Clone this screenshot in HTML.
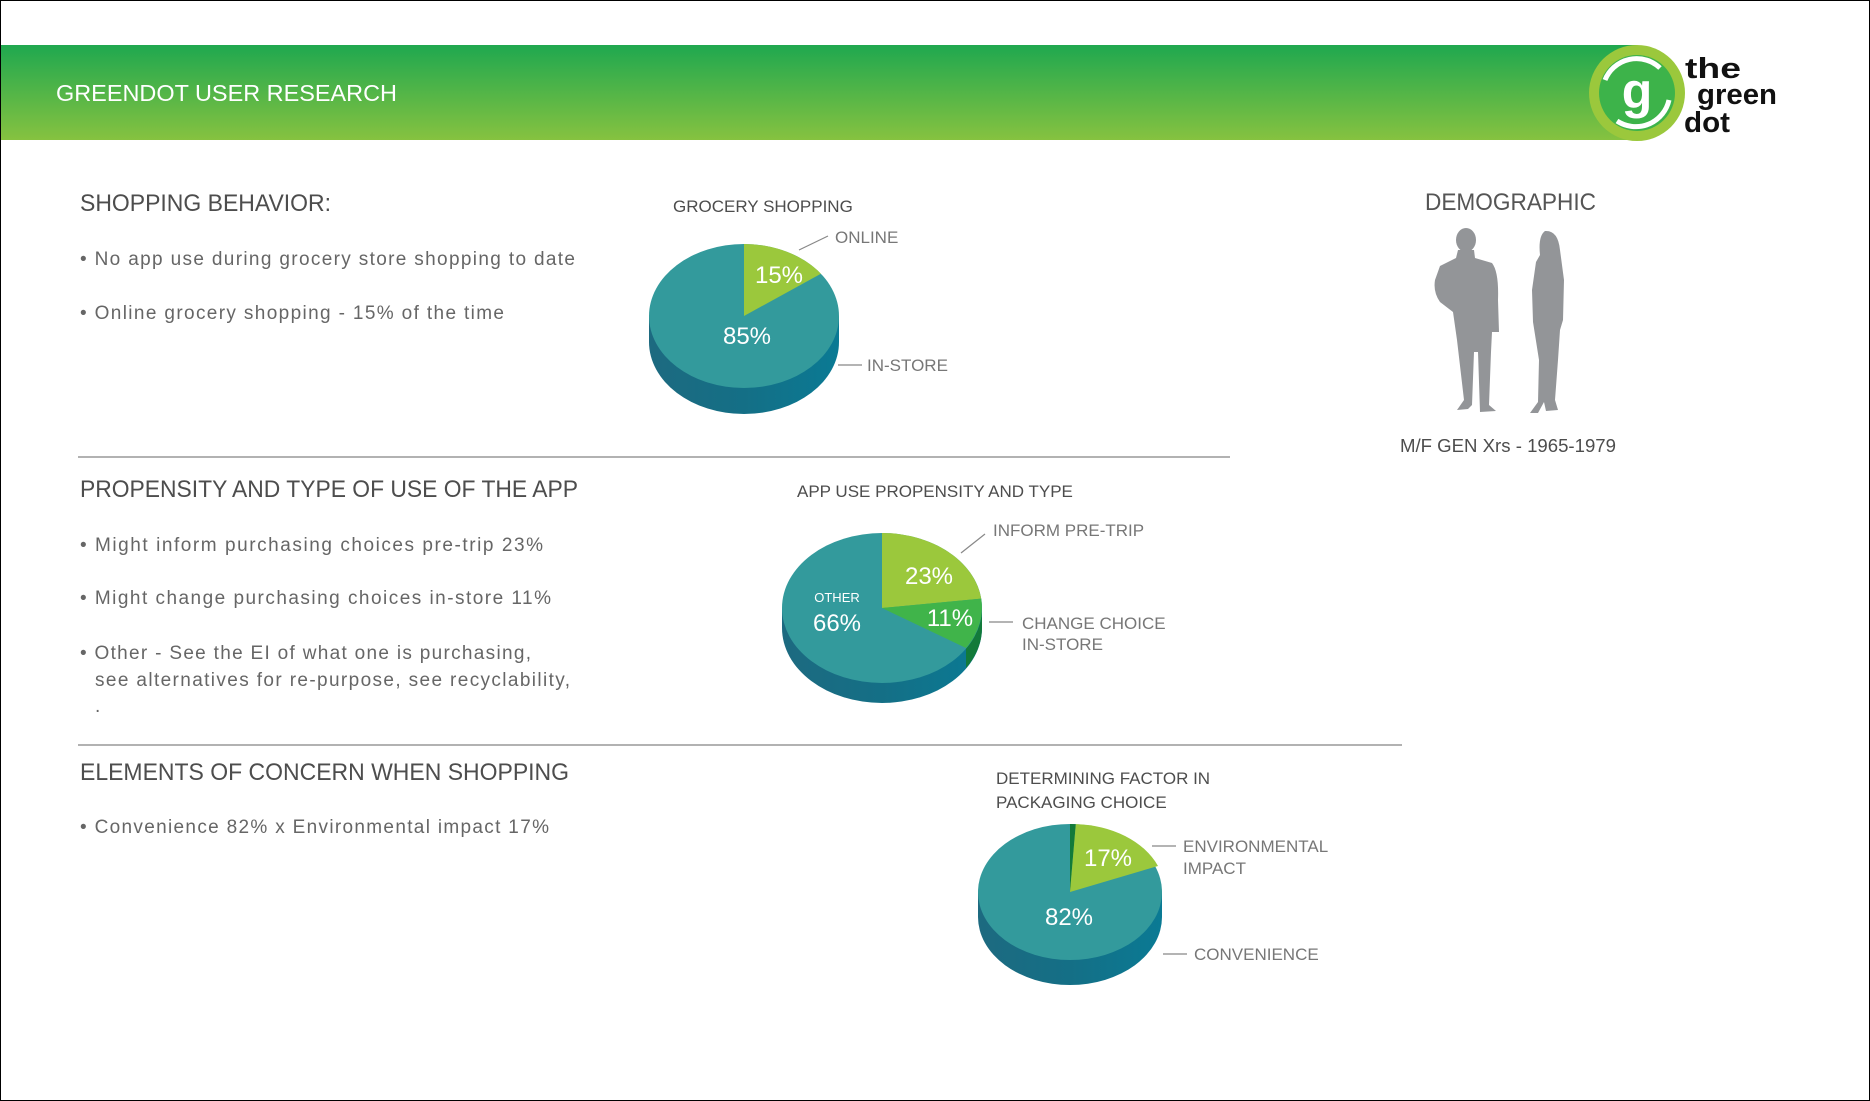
<!DOCTYPE html>
<html><head><meta charset="utf-8"><style>
html,body{margin:0;padding:0;background:#fff}
svg{display:block}
text{font-family:"Liberation Sans",sans-serif}
</style></head><body>
<svg width="1870" height="1101" viewBox="0 0 1870 1101" xmlns="http://www.w3.org/2000/svg">
<defs>
<linearGradient id="hdr" x1="0" y1="0" x2="0" y2="1"><stop offset="0" stop-color="#1fa84f"/><stop offset="1" stop-color="#86c240"/></linearGradient>
<linearGradient id="side" x1="0" y1="0" x2="1" y2="0"><stop offset="0" stop-color="#1d6a80"/><stop offset="0.5" stop-color="#146f86"/><stop offset="1" stop-color="#0a7a94"/></linearGradient>
</defs>
<rect x="0.5" y="0.5" width="1869" height="1100" fill="#fff" stroke="#000"/>
<rect x="1" y="45" width="1636" height="95" fill="url(#hdr)"/>
<text x="56" y="101" font-size="23" fill="#fff" textLength="341" lengthAdjust="spacingAndGlyphs">GREENDOT USER RESEARCH</text>
<!-- logo -->
<circle cx="1637" cy="93" r="48" fill="#9bc83c"/>
<circle cx="1637" cy="93" r="38" fill="#3db34a"/>
<path d="M1605 80 A34 34 0 0 1 1660 68" stroke="#fff" stroke-width="5" fill="none"/>
<path d="M1669 100 A34 34 0 0 1 1617 121" stroke="#fff" stroke-width="5" fill="none"/>
<text x="1637" y="108" font-size="50" fill="#fff" text-anchor="middle" font-weight="bold">g</text>
<g font-size="29" fill="#111" font-weight="bold">
<text x="1685" y="78" textLength="56" lengthAdjust="spacingAndGlyphs">the</text>
<text x="1697" y="104" textLength="80" lengthAdjust="spacingAndGlyphs">green</text>
<text x="1684" y="132" textLength="46" lengthAdjust="spacingAndGlyphs">dot</text>
</g>

<g fill="#4d4d4d">
<text x="80" y="211" font-size="24" textLength="251" lengthAdjust="spacingAndGlyphs">SHOPPING BEHAVIOR:</text>
<text x="80" y="265" font-size="19" fill="#666" textLength="495" lengthAdjust="spacing">• No app use during grocery store shopping to date</text>
<text x="80" y="319" font-size="19" fill="#666" textLength="424" lengthAdjust="spacing">• Online grocery shopping - 15% of the time</text>
<text x="80" y="497" font-size="24" textLength="498" lengthAdjust="spacingAndGlyphs">PROPENSITY AND TYPE OF USE OF THE APP</text>
<text x="80" y="551" font-size="19" fill="#666" textLength="463" lengthAdjust="spacing">• Might inform purchasing choices pre-trip 23%</text>
<text x="80" y="604" font-size="19" fill="#666" textLength="471" lengthAdjust="spacing">• Might change purchasing choices in-store 11%</text>
<text x="80" y="659" font-size="19" fill="#666" textLength="451" lengthAdjust="spacing">• Other - See the EI of what one is purchasing,</text>
<text x="95" y="686" font-size="19" fill="#666" textLength="475" lengthAdjust="spacing">see alternatives for re-purpose, see recyclability,</text>
<text x="95" y="712" font-size="19" fill="#666">.</text>
<text x="80" y="780" font-size="24" textLength="489" lengthAdjust="spacingAndGlyphs">ELEMENTS OF CONCERN WHEN SHOPPING</text>
<text x="80" y="833" font-size="19" fill="#666" textLength="469" lengthAdjust="spacing">• Convenience 82% x Environmental impact 17%</text>
<text x="1425" y="210" font-size="24" fill="#555" textLength="171" lengthAdjust="spacingAndGlyphs">DEMOGRAPHIC</text>
<text x="1400" y="452" font-size="18" textLength="216" lengthAdjust="spacingAndGlyphs">M/F GEN Xrs - 1965-1979</text>
</g>
<line x1="78" y1="457" x2="1230" y2="457" stroke="#999" stroke-width="1.5"/>
<line x1="78" y1="745" x2="1402" y2="745" stroke="#999" stroke-width="1.5"/>

<!-- pie 1 -->
<text x="673" y="212" font-size="17" fill="#4d4d4d">GROCERY SHOPPING</text>
<path d="M649 316 L649 342 A95 72 0 0 0 839 342 L839 316 Z" fill="url(#side)"/>
<ellipse cx="744" cy="316" rx="95" ry="72" fill="#339a9c"/>
<path d="M744 316 L744 244 A95 72 0 0 1 820.9 273.7 Z" fill="#9bc83c"/>
<text x="779" y="283" font-size="24" fill="#fff" text-anchor="middle">15%</text>
<text x="747" y="344" font-size="24" fill="#fff" text-anchor="middle">85%</text>
<g stroke="#888" stroke-width="1.2"><line x1="799" y1="250" x2="828" y2="236"/><line x1="838" y1="365" x2="862" y2="365"/></g>
<g font-size="17" fill="#777"><text x="835" y="243">ONLINE</text><text x="867" y="371">IN-STORE</text></g>

<!-- pie 2 -->
<text x="797" y="497" font-size="17" fill="#4d4d4d">APP USE PROPENSITY AND TYPE</text>
<path d="M782 608 L782 628 A100 75 0 0 0 982 628 L982 608 Z" fill="url(#side)"/>
<path d="M982 608 A100 75 0 0 1 966 648 L966 668 A100 75 0 0 0 982 628 Z" fill="#127a3a"/>
<ellipse cx="882" cy="608" rx="100" ry="75" fill="#339a9c"/>
<path d="M882 608 L882 533 A100 75 0 0 1 981.2 598.6 Z" fill="#9bc83c"/>
<path d="M882 608 L981.2 598.6 A100 75 0 0 1 966 648 Z" fill="#40b44a"/>
<text x="929" y="584" font-size="24" fill="#fff" text-anchor="middle">23%</text>
<text x="950" y="626" font-size="24" fill="#fff" text-anchor="middle">11%</text>
<text x="837" y="602" font-size="13" fill="#fff" text-anchor="middle">OTHER</text>
<text x="837" y="631" font-size="24" fill="#fff" text-anchor="middle">66%</text>
<g stroke="#888" stroke-width="1.2"><line x1="961" y1="553" x2="985" y2="534"/><line x1="989" y1="622" x2="1013" y2="622"/></g>
<g font-size="17" fill="#777"><text x="993" y="536">INFORM PRE-TRIP</text><text x="1022" y="629">CHANGE CHOICE</text><text x="1022" y="650">IN-STORE</text></g>

<!-- pie 3 -->
<text x="996" y="784" font-size="17" fill="#4d4d4d">DETERMINING FACTOR IN</text>
<text x="996" y="808" font-size="17" fill="#4d4d4d">PACKAGING CHOICE</text>
<path d="M978 892 L978 917 A92 68 0 0 0 1162 917 L1162 892 Z" fill="url(#side)"/>
<ellipse cx="1070" cy="892" rx="92" ry="68" fill="#339a9c"/>
<path d="M1070 892 L1070 824 A92 68 0 0 1 1075.8 824.1 Z" fill="#127a3a"/>
<path d="M1070 892 L1075.8 824.1 A92 68 0 0 1 1158 866 Z" fill="#9bc83c"/>
<text x="1108" y="866" font-size="24" fill="#fff" text-anchor="middle">17%</text>
<text x="1069" y="925" font-size="24" fill="#fff" text-anchor="middle">82%</text>
<g stroke="#888" stroke-width="1.2"><line x1="1152" y1="846" x2="1176" y2="846"/><line x1="1163" y1="954" x2="1187" y2="954"/></g>
<g font-size="17" fill="#777"><text x="1183" y="852">ENVIRONMENTAL</text><text x="1183" y="874">IMPACT</text><text x="1194" y="960">CONVENIENCE</text></g>

<!-- figures -->
<g fill="#939598">
<ellipse cx="1466" cy="240" rx="10" ry="12"/>
<path d="M1458 250 L1474 250 L1475 258 L1492 263 Q1499 272 1498 300 L1499 332 L1492 332 L1491 352 L1489 405 L1496 411 L1480 412 L1478 352 L1474 352 L1472 405 L1468 409 L1457 410 L1464 400 L1457 340 L1453 312 L1440 302 Q1433 292 1435 280 L1440 266 L1456 258 Z"/>
<path d="M1545 231 Q1558 230 1560 250 L1564 280 L1563 320 L1560 330 L1558 360 L1555 400 L1558 410 L1546 411 L1544 402 L1538 413 L1530 413 L1538 402 L1539 360 L1533 322 L1532 290 L1536 262 L1540 255 Q1538 236 1545 231 Z"/>
</g>
</svg>
</body></html>
